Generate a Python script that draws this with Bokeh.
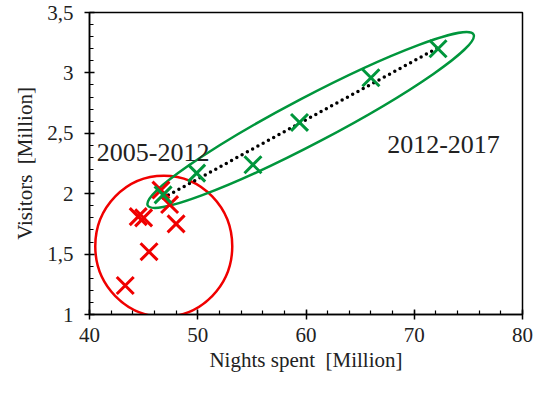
import numpy as np
from bokeh.plotting import figure
from bokeh.models import Range1d, CustomJSTickFormatter, Label, FixedTicker, Title
from bokeh.embed import file_html
from bokeh.resources import INLINE

# ---- data ----
red_nights = [43.3, 45.5, 44.5, 45.0, 48.0, 47.4, 46.6]
red_visitors = [1.24, 1.52, 1.81, 1.80, 1.75, 1.91, 2.03]
green_nights = [46.8, 49.9, 55.1, 59.4, 66.0, 72.2]
green_visitors = [1.99, 2.17, 2.24, 2.59, 2.96, 3.20]
x_ticks = [40, 50, 60, 70, 80]
y_ticks = [1, 1.5, 2, 2.5, 3, 3.5]
label_red = "2005-2012"
label_green = "2012-2017"

RED = "#F00000"
GREEN = "#00963C"
FONT = "Liberation Serif"
TXT = "#222222"

p = figure(width=536, height=379, output_backend="svg", toolbar_location=None,
           x_range=Range1d(40, 80), y_range=Range1d(1, 3.5),
           min_border_left=89, min_border_right=14, min_border_top=12, min_border_bottom=65)
p.grid.visible = False
p.outline_line_color = "black"
p.outline_line_width = 1.5
p.background_fill_color = "white"
p.border_fill_color = "white"

p.axis.axis_line_color = "black"
p.axis.axis_line_width = 1.5
p.axis.major_tick_line_color = "black"
p.axis.minor_tick_line_color = "black"
p.axis.major_tick_line_width = 1.5
p.axis.minor_tick_line_width = 1.2
p.axis.major_tick_in = 5
p.axis.major_tick_out = 5
p.axis.minor_tick_in = 4
p.axis.minor_tick_out = 0
p.axis.major_label_text_font = FONT
p.axis.major_label_text_font_size = "21px"
p.axis.major_label_text_color = TXT
p.axis.axis_label_text_font = FONT
p.axis.axis_label_text_font_size = "21px"
p.axis.axis_label_text_font_style = "normal"
p.axis.axis_label_text_color = TXT

p.xaxis.ticker = FixedTicker(ticks=x_ticks, minor_ticks=list(np.arange(40, 81, 2)))
p.yaxis.ticker = FixedTicker(ticks=y_ticks, minor_ticks=list(np.round(np.arange(1, 3.51, 0.1), 2)))
p.xaxis.major_label_standoff = 8
p.yaxis.major_label_standoff = 11
p.xaxis.axis_label = "Nights spent\u00a0 [Million]"
p.xaxis.axis_label_standoff = 3
p.yaxis.formatter = CustomJSTickFormatter(code="return tick.toString().replace('.', ',');")

# y-axis label, shifted upward as in the reference
ytitle = Title(text="Visitors\u00a0 [Million]", align="center", offset=26,
               text_font=FONT, text_font_size="21px", text_font_style="normal",
               text_color=TXT, standoff=15)
p.add_layout(ytitle, "left")

# ellipses
p.ellipse(x=[46.86], y=[1.565], width=[137], height=[141], width_units="screen",
          height_units="screen", fill_color=None, line_color=RED, line_width=2.5)
p.ellipse(x=[60.43], y=[2.61], width=[368], height=[46], width_units="screen",
          height_units="screen", angle=[27.7], angle_units="deg",
          fill_color=None, line_color=GREEN, line_width=2.5)

# trend line through green points
coef = np.polyfit(green_nights, green_visitors, 1)
tx = np.array([min(green_nights), max(green_nights)])
p.line(tx, np.polyval(coef, tx), line_color="black", line_width=3.5,
       line_dash="0 6", line_cap="round")

# points
p.scatter(red_nights, red_visitors, marker="x", size=24, line_color=RED, line_width=3)
p.scatter(green_nights, green_visitors, marker="x", size=24, line_color=GREEN, line_width=3)

# annotations
p.add_layout(Label(x=40.68, y=2.34, text=label_red, text_font=FONT, text_font_size="26px",
                   text_color=TXT, text_baseline="alphabetic"))
p.add_layout(Label(x=67.5, y=2.41, text=label_green, text_font=FONT, text_font_size="26px",
                   text_color=TXT, text_baseline="alphabetic"))

open("out.html", "w").write(file_html(p, INLINE))
